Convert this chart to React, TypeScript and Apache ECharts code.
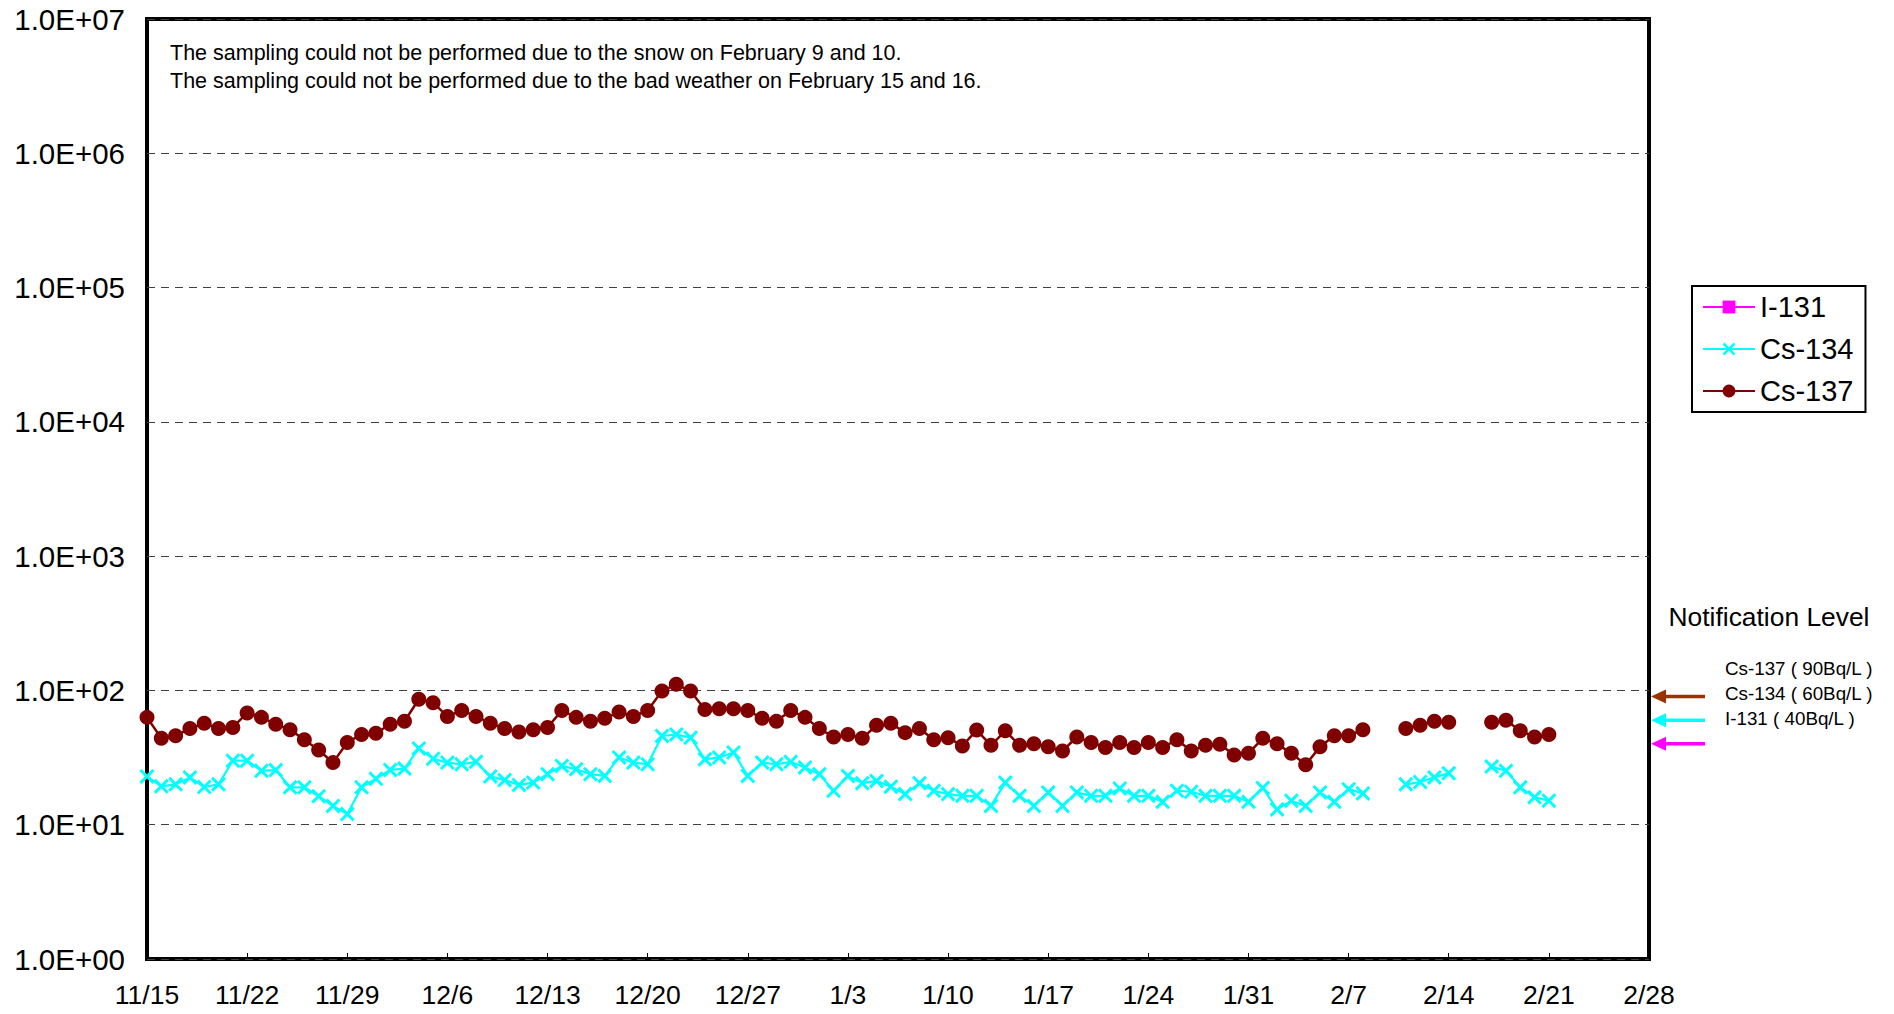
import React, { useEffect, useRef } from 'react';
import * as echarts from 'echarts';

// x: days since 11/15, one tick every 7 days
const xTickLabels = ['11/15', '11/22', '11/29', '12/6', '12/13', '12/20', '12/27', '1/3', '1/10', '1/17', '1/24', '1/31', '2/7', '2/14', '2/21', '2/28'];
const yTickLabels = ['1.0E+00', '1.0E+01', '1.0E+02', '1.0E+03', '1.0E+04', '1.0E+05', '1.0E+06', '1.0E+07'];

const seriesNames = ['I-131', 'Cs-134', 'Cs-137'];

// daily values from 11/15 (index 0) to 2/21 (index 98); null = no sampling
const i131: (number | null)[] = [];
const cs134: (number | null)[] = [
  22.9, 19.3, 20, 22.5, 19.1, 20, 30, 30, 25.2, 25.5,
  19, 19, 16.3, 13.8, 12, 19, 22, 25.6, 26.2, 37,
  31, 29, 28.2, 29.4, 22.9, 21.5, 19.8, 20.6, 23.8, 27.4,
  25.9, 23.8, 23.1, 31.7, 29, 28.2, 45.8, 47, 44.5, 30.7,
  31.7, 34.5, 23.1, 29, 28.2, 29.4, 26.7, 23.8, 17.9, 23.1,
  20.4, 21.2, 19.2, 16.9, 20.4, 17.9, 16.9, 16.4, 16.4, 13.8,
  20.6, 16.4, 13.8, 17.4, 13.8, 17.4, 16.4, 16.4, 18.6, 16.4,
  16.4, 14.8, 17.9, 17.6, 16.4, 16.4, 16.4, 14.8, 18.8, 13,
  15.1, 13.8, 17.4, 14.8, 18.4, 17.1, null, null, 20, 20.8,
  22.5, 24.2, null, null, 27.1, 25.2, 19, 16, 15.1,
];
const cs137: (number | null)[] = [
  63, 44, 46, 52, 57, 52, 53, 68, 63, 56,
  51, 43, 36, 29, 41, 47, 48, 56, 59, 86,
  81, 64, 71, 64, 57, 52, 49, 51, 53, 71,
  63, 59, 62, 69, 64, 71, 99, 111, 99, 72,
  73, 73, 71, 62, 59, 71, 63, 52, 45, 47,
  44, 55, 57, 48.5, 52, 43, 44.5, 38.6, 50.7, 39,
  50, 39, 40, 38, 35.4, 45, 41, 37.6, 41, 37.6,
  41, 37.6, 43, 35.4, 39, 39.7, 33, 34, 44, 40,
  34, 28, 38, 46, 46, 51, null, null, 52, 55,
  59, 58, null, null, 58, 60, 50, 45, 47,
];

const notificationLevels = [90, 60, 40];
const notificationLabels = ['Cs-137 ( 90Bq/L )', 'Cs-134 ( 60Bq/L )', 'I-131 ( 40Bq/L )'];
const notificationColors = ['#993300', '#00FFFF', '#FF00FF'];
const notes = [
  'The sampling could not be performed due to the snow on February 9 and 10.',
  'The sampling could not be performed due to the bad weather on February 15 and 16.',
];

const FONT = '"Liberation Sans", Arial, sans-serif';
const crossPath = 'path://M0,1.4L1.4,0L5,3.6L8.6,0L10,1.4L6.4,5L10,8.6L8.6,10L5,6.4L1.4,10L0,8.6L3.6,5Z';

const toPairs = (arr: (number | null)[]) => arr.map((v, i) => [i, v]);

export default function App() {
  const ref = useRef<HTMLDivElement>(null);
  useEffect(() => {
    if (!ref.current) return;
    const chart = echarts.init(ref.current, undefined, { renderer: 'svg' });
    chart.setOption({
      animation: false,
      backgroundColor: '#fff',
      textStyle: { fontFamily: FONT },
      grid: { left: 147, right: 245, top: 19, bottom: 55, show: true, borderColor: '#000', borderWidth: 4, containLabel: false },
      xAxis: {
        type: 'value', min: 0, max: 105, interval: 7,
        axisLine: { show: false },
        axisTick: { show: true, inside: true, length: 6, lineStyle: { color: '#000', width: 1 } },
        axisLabel: {
          showMinLabel: true, showMaxLabel: true,
          margin: 22, fontSize: 26.5, color: '#000', fontFamily: FONT,
          formatter: (v: number) => xTickLabels[Math.round(v / 7)] ?? '',
        },
        splitLine: { show: false },
      },
      yAxis: {
        type: 'log', logBase: 10, min: 1, max: 1e7,
        axisLine: { show: false },
        axisTick: { show: false },
        axisLabel: {
          margin: 22, fontSize: 29.5, color: '#000', fontFamily: FONT,
          formatter: (v: number) => yTickLabels[Math.round(Math.log10(v))] ?? '',
        },
        splitLine: { show: true, lineStyle: { color: '#404040', width: 1, type: [8, 6] } },
        minorTick: { show: false },
      },
      legend: {
        orient: 'vertical', left: 1692, top: 286,
        data: seriesNames,
        itemWidth: 52, itemHeight: 16, itemGap: 12,
        padding: [6, 12, 6, 10],
        borderColor: '#000', borderWidth: 2,
        textStyle: { fontSize: 29, color: '#000', fontFamily: FONT, lineHeight: 30 },
      },
      series: [
        {
          name: 'I-131', type: 'line', data: toPairs(i131),
          symbol: 'rect', symbolSize: 12,
          itemStyle: { color: '#FF00FF' }, lineStyle: { color: '#FF00FF', width: 2 },
        },
        {
          name: 'Cs-134', type: 'line', data: toPairs(cs134), connectNulls: false,
          symbol: crossPath, symbolSize: 15,
          itemStyle: { color: '#00FFFF' }, lineStyle: { color: '#00FFFF', width: 2.2 },
          z: 3,
        },
        {
          name: 'Cs-137', type: 'line', data: toPairs(cs137), connectNulls: false,
          symbol: 'circle', symbolSize: 15,
          itemStyle: { color: '#800000' }, lineStyle: { color: '#800000', width: 2.5 },
          z: 2,
        },
      ],
    });

    const xRight = chart.convertToPixel({ xAxisIndex: 0 }, 105) as number;
    const tip = xRight + 2;
    const arrows: any[] = [];
    notificationLevels.forEach((lvl, i) => {
      const y = chart.convertToPixel({ yAxisIndex: 0 }, lvl) as number;
      const c = notificationColors[i];
      arrows.push({
        type: 'line', silent: true,
        shape: { x1: tip + 12, y1: y, x2: tip + 54, y2: y },
        style: { stroke: c, lineWidth: 3.5 },
      });
      arrows.push({
        type: 'polygon', silent: true,
        shape: { points: [[tip, y], [tip + 15, y - 7], [tip + 15, y + 7]] },
        style: { fill: c },
      });
    });
    const texts: any[] = [
      ...notes.map((t, i) => ({
        type: 'text', x: 170, y: 53 + i * 28,
        style: { text: t, font: `21.5px ${FONT}`, fill: '#000', verticalAlign: 'middle', align: 'left' },
      })),
      {
        type: 'text', x: 1769, y: 617,
        style: { text: 'Notification Level', font: `26.4px ${FONT}`, fill: '#000', verticalAlign: 'middle', align: 'center' },
      },
      ...notificationLabels.map((t, i) => ({
        type: 'text', x: 1725, y: 668 + i * 25,
        style: { text: t, font: `18.8px ${FONT}`, fill: '#000', verticalAlign: 'middle', align: 'left' },
      })),
    ];
    chart.setOption({ graphic: [...arrows, ...texts] });

    return () => chart.dispose();
  }, []);
  return <div ref={ref} style={{ position: 'fixed', left: 0, top: 0, width: 1894, height: 1014 }} />;
}
